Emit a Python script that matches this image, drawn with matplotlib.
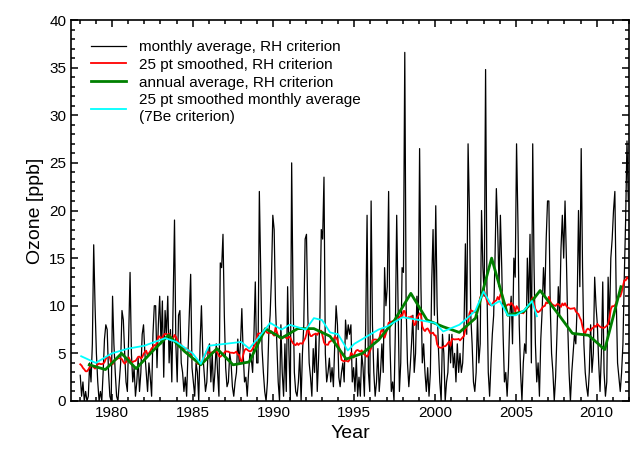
import matplotlib
matplotlib.use("Agg")
import matplotlib.pyplot as plt
import numpy as np
import pandas as pd
from matplotlib.ticker import MultipleLocator

plt.rcParams.update({'font.family': 'Liberation Sans', 'font.size': 11,
                     'axes.linewidth': 1.2})

# monthly averages, RH criterion (Jan..Dec per year)
monthly = {
    1978: [2.7, 0.5, 2.0, 0.0, 1.0, 0.0, 0.5, 4.0, 2.0, 6.0, 16.4, 10.0],
    1979: [5.0, 2.0, 0.0, 1.0, 0.0, 3.0, 6.5, 8.0, 7.5, 3.0, 0.5, 0.0],
    1980: [11.0, 6.0, 3.0, 0.5, 0.0, 2.0, 4.0, 9.5, 8.5, 5.0, 2.0, 1.0],
    1981: [7.0, 13.5, 5.0, 2.0, 3.5, 0.5, 2.0, 4.5, 1.0, 3.0, 7.0, 8.0],
    1982: [5.0, 3.0, 1.0, 4.0, 2.5, 0.5, 7.0, 10.0, 10.0, 3.5, 8.0, 11.0],
    1983: [6.0, 10.5, 2.5, 9.5, 7.0, 11.0, 4.0, 7.5, 2.0, 10.5, 19.0, 6.0],
    1984: [2.0, 9.0, 9.5, 4.0, 3.0, 1.0, 2.5, 0.5, 5.0, 9.0, 13.3, 3.5],
    1985: [2.0, 0.5, 4.0, 3.0, 0.0, 6.0, 10.0, 5.0, 3.0, 1.0, 2.0, 5.5],
    1986: [6.0, 2.0, 5.0, 1.0, 3.0, 6.0, 3.0, 0.5, 14.5, 14.0, 17.5, 9.0],
    1987: [3.5, 1.5, 2.0, 5.0, 4.0, 1.5, 0.5, 2.0, 3.0, 6.5, 4.0, 6.0],
    1988: [9.7, 5.0, 2.0, 2.5, 0.5, 3.0, 5.0, 4.5, 3.0, 7.0, 12.5, 4.0],
    1989: [4.0, 22.0, 14.0, 5.5, 3.0, 1.0, 0.0, 2.0, 7.0, 9.0, 13.0, 19.5],
    1990: [18.0, 10.0, 6.0, 2.0, 0.0, 8.0, 3.0, 0.5, 6.0, 1.0, 12.0, 5.0],
    1991: [0.0, 25.0, 11.0, 3.0, 1.0, 0.5, 2.0, 5.0, 0.0, 5.0, 8.0, 17.0],
    1992: [17.5, 9.0, 4.0, 2.5, 0.5, 5.5, 3.0, 7.0, 1.0, 4.5, 9.0, 18.0],
    1993: [17.0, 23.5, 5.0, 2.0, 3.0, 4.5, 2.0, 3.5, 1.5, 6.0, 10.0, 8.0],
    1994: [2.5, 1.5, 3.0, 4.0, 2.0, 8.5, 6.5, 8.0, 7.0, 8.0, 2.0, 3.5],
    1995: [1.0, 4.5, 0.5, 2.5, 0.5, 5.0, 3.5, 0.5, 8.0, 19.5, 3.0, 1.0],
    1996: [21.0, 8.0, 3.0, 0.5, 2.0, 5.5, 1.0, 3.0, 6.0, 3.0, 14.0, 10.0],
    1997: [12.0, 22.0, 6.0, 1.0, 2.0, 0.0, 7.5, 19.5, 10.0, 1.0, 4.0, 14.0],
    1998: [13.5, 36.6, 10.0, 4.0, 1.5, 3.5, 6.0, 9.0, 3.0, 5.0, 11.0, 7.5],
    1999: [26.5, 12.0, 4.0, 6.0, 3.0, 1.0, 3.5, 0.5, 3.0, 12.5, 18.0, 9.0],
    2000: [20.5, 10.0, 5.5, 2.0, 0.0, 7.0, 5.0, 0.0, 2.0, 3.0, 7.0, 4.0],
    2001: [7.0, 3.5, 5.0, 2.0, 6.0, 3.0, 5.0, 3.0, 4.0, 8.0, 16.5, 7.0],
    2002: [27.0, 20.0, 9.0, 6.0, 2.0, 1.0, 3.0, 9.0, 4.0, 6.0, 20.0, 14.0],
    2003: [11.0, 34.8, 12.0, 3.0, 0.5, 4.0, 7.0, 9.0, 15.0, 22.3, 18.0, 12.0],
    2004: [19.5, 14.0, 7.0, 2.0, 3.0, 0.5, 3.5, 9.0, 11.0, 6.0, 15.0, 13.0],
    2005: [27.0, 19.0, 8.0, 3.0, 0.0, 4.0, 6.0, 5.0, 15.0, 10.0, 17.5, 4.0],
    2006: [27.0, 14.0, 6.0, 2.0, 4.0, 0.5, 6.5, 9.5, 14.0, 11.0, 17.0, 21.0],
    2007: [21.0, 10.0, 5.0, 3.0, 0.0, 2.5, 7.0, 12.0, 9.0, 16.0, 19.5, 15.0],
    2008: [21.0, 15.0, 8.0, 3.0, 0.0, 3.0, 5.0, 7.0, 6.0, 10.0, 20.0, 12.0],
    2009: [26.5, 14.0, 6.0, 3.0, 1.5, 0.5, 3.0, 8.0, 3.0, 5.0, 13.0, 10.0],
    2010: [8.0, 4.0, 1.0, 5.0, 12.5, 3.0, 0.5, 2.0, 13.0, 8.0, 15.0, 17.0],
    2011: [20.0, 22.0, 11.0, 4.0, 2.5, 1.0, 3.0, 6.0, 13.0, 19.0, 27.3, 21.0],
}

annual_years = [1978.6, 1979.6, 1980.6, 1981.5, 1982.5, 1983.5, 1984.5, 1985.5,
                1986.5, 1987.5, 1988.5, 1989.5, 1990.5, 1991.5, 1992.5, 1993.5,
                1994.5, 1995.5, 1996.5, 1997.5, 1998.5, 1999.5, 2000.5, 2001.5,
                2002.5, 2003.5, 2004.5, 2005.5, 2006.5, 2007.5, 2008.5, 2009.5,
                2010.5, 2011.5]
annual_vals = [3.8, 3.3, 5.0, 3.4, 5.2, 6.9, 5.2, 3.8, 5.5, 3.8, 4.1, 7.6,
               6.6, 7.6, 7.6, 6.8, 4.4, 5.0, 6.4, 8.5, 11.3, 8.5, 7.8, 7.2,
               8.7, 15.0, 9.0, 9.4, 11.6, 9.4, 7.1, 6.9, 5.4, 12.0]

be_years = [1978.1, 1979.0, 1980.0, 1981.0, 1982.0, 1983.3, 1984.0, 1985.0,
            1985.5, 1986.0, 1987.0, 1988.0, 1988.5, 1989.0, 1989.8, 1990.5,
            1991.0, 1992.0, 1992.5, 1993.0, 1993.5, 1994.0, 1994.6, 1995.0,
            1996.0, 1996.5, 1997.0, 1998.0, 1999.0, 2000.0, 2000.5, 2001.5,
            2002.0, 2002.5, 2003.0, 2003.5, 2004.0, 2004.5, 2005.0, 2005.5,
            2006.0, 2006.3]
be_vals = [4.7, 4.0, 5.0, 5.5, 5.8, 6.6, 6.2, 5.0, 3.9, 5.8, 6.0, 6.2, 5.5,
           6.5, 8.2, 7.5, 8.0, 7.5, 8.7, 8.5, 7.2, 7.0, 5.3, 6.0, 7.0, 7.5,
           7.8, 8.8, 8.5, 8.2, 7.3, 8.0, 8.7, 9.5, 11.5, 10.0, 10.5, 9.0,
           9.0, 9.5, 10.5, 8.9]

years = sorted(monthly)
vals = np.concatenate([monthly[y] for y in years])
t = years[0] + (np.arange(len(vals)) + 0.5) / 12.0
smooth = pd.Series(vals).rolling(25, center=True, min_periods=1).mean()

fig = plt.figure(figsize=(6.31, 4.58), dpi=100)
ax = fig.add_axes([71 / 631, 1 - 401 / 458, 558 / 631, 381 / 458])
ax.plot(t, vals, color='black', lw=0.9, label='monthly average, RH criterion')
ax.plot(t, smooth, color='red', lw=1.3, label='25 pt smoothed, RH criterion')
ax.plot(annual_years, annual_vals, color='green', lw=2,
        label='annual average, RH criterion')
ax.plot(be_years, be_vals, color='cyan', lw=1.3,
        label='25 pt smoothed monthly average\n(7Be criterion)')

ax.set_xlim(1977.47, 2012.0)
ax.set_ylim(0, 40)
ax.xaxis.set_major_locator(MultipleLocator(5))
ax.xaxis.set_minor_locator(MultipleLocator(1))
ax.yaxis.set_major_locator(MultipleLocator(5))
ax.yaxis.set_minor_locator(MultipleLocator(1))
ax.tick_params(which='both', direction='in', top=True, right=True, width=1.1)
ax.tick_params(which='major', length=5)
ax.tick_params(which='minor', length=3)
ax.set_xlabel('Year', fontsize=14)
ax.set_ylabel('Ozone [ppb]', fontsize=14)
ax.legend(loc='upper left', frameon=False, fontsize=11, handlelength=2.3,
          borderaxespad=0.9, labelspacing=0.25, handletextpad=0.85)

fig.savefig('out.png', dpi=100)
